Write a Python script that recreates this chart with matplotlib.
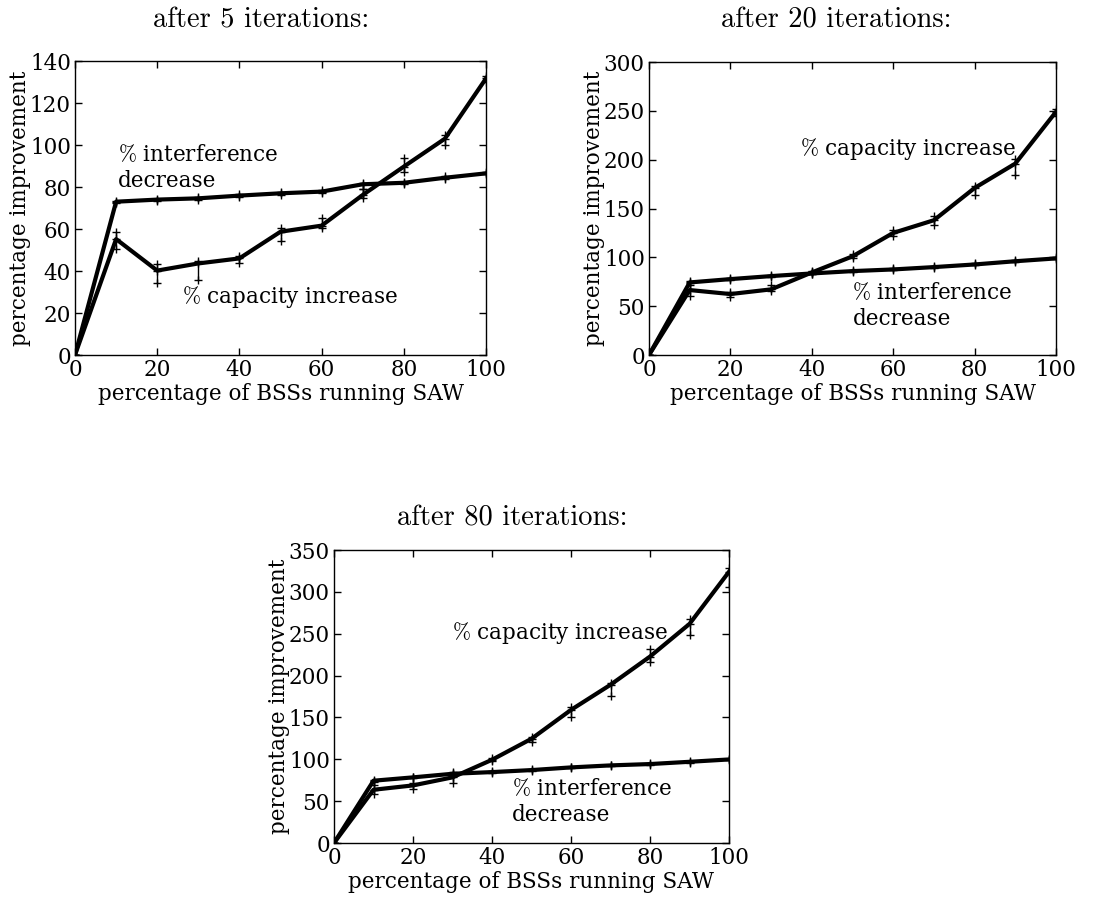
import matplotlib
matplotlib.use("Agg")
import matplotlib.pyplot as plt
import numpy as np

plt.rcParams['font.family'] = 'DejaVu Serif'
plt.rcParams['mathtext.fontset'] = 'cm'

x = [0, 10, 20, 30, 40, 50, 60, 70, 80, 90, 100]

# after 5 iterations
interf_5 = [0, 73.0, 74.0, 74.6, 75.9, 77.0, 77.8, 81.3, 82.0, 84.4, 86.5]
interf_5_lo = [0, 72.5, 73.5, 74.0, 75.3, 76.4, 77.2, 79.0, 81.5, 83.8, 86.0]
interf_5_hi = [0, 73.5, 74.5, 75.2, 76.5, 77.6, 78.4, 82.0, 82.5, 85.0, 87.0]
cap_5 = [0, 55.2, 40.2, 43.6, 46.0, 58.7, 61.6, 76.2, 89.7, 103.0, 131.7]
cap_5_lo = [0, 50.3, 34.4, 35.7, 44.0, 54.3, 60.3, 74.6, 87.0, 100.0, 130.0]
cap_5_hi = [0, 58.4, 43.3, 44.9, 47.0, 60.3, 65.4, 79.0, 94.0, 104.8, 133.0]

# after 20 iterations
interf_20 = [0, 74.3, 77.7, 80.8, 83.5, 85.9, 87.6, 90.0, 92.7, 96.0, 98.9]
interf_20_lo = [0, 73.3, 76.7, 79.8, 82.5, 84.9, 86.6, 89.0, 91.7, 95.0, 97.9]
interf_20_hi = [0, 75.3, 78.7, 81.8, 84.5, 86.9, 88.6, 91.0, 93.7, 97.0, 99.9]
cap_20 = [0, 66.5, 62.4, 67.2, 84.5, 101.0, 125.0, 138.0, 171.0, 196.0, 249.0]
cap_20_lo = [0, 60.3, 59.7, 65.8, 83.0, 98.9, 121.7, 133.0, 163.6, 184.8, 244.4]
cap_20_hi = [0, 71.6, 64.8, 71.6, 86.0, 103.6, 127.8, 142.5, 173.0, 200.4, 251.6]

# after 80 iterations
interf_80 = [0, 74.4, 78.4, 82.7, 84.7, 87.1, 90.3, 92.7, 94.3, 97.0, 99.8]
interf_80_lo = [0, 73.4, 77.4, 81.7, 83.7, 86.1, 89.3, 91.7, 93.3, 96.0, 98.8]
interf_80_hi = [0, 75.4, 79.4, 83.7, 85.7, 88.1, 91.3, 93.7, 95.3, 98.0, 100.8]
cap_80 = [0, 63.6, 68.8, 78.4, 99.4, 124.5, 159.0, 189.0, 222.7, 261.7, 324.0]
cap_80_lo = [0, 58.9, 64.4, 71.6, 97.5, 121.0, 150.0, 176.0, 216.8, 248.6, 306.0]
cap_80_hi = [0, 69.6, 71.6, 84.3, 101.5, 127.0, 162.0, 191.0, 231.5, 267.0, 328.0]

titles = ["after 5 iterations:", "after 20 iterations:", "after 80 iterations:"]
ylims = [140, 300, 350]
ytick_steps = [20, 50, 50]

W, H = 1105, 897
fig = plt.figure(figsize=(W / 100, H / 100), dpi=100)


def px_axes(left, top, right, bottom):
    return fig.add_axes([left / W, 1 - bottom / H, (right - left) / W, (bottom - top) / H])


axes = [px_axes(75, 61, 486, 355), px_axes(649, 62, 1056, 355), px_axes(334, 550, 729, 843)]

series = [
    (interf_5, interf_5_lo, interf_5_hi, cap_5, cap_5_lo, cap_5_hi),
    (interf_20, interf_20_lo, interf_20_hi, cap_20, cap_20_lo, cap_20_hi),
    (interf_80, interf_80_lo, interf_80_hi, cap_80, cap_80_lo, cap_80_hi),
]

FS = 15.5


def draw(ax, vals, yl, step):
    for y, lo, hi in (vals[0:3], vals[3:6]):
        ax.vlines(x, lo, hi, color='k', lw=1, zorder=2)
        ax.plot(x, lo, '+', color='k', ms=6, mew=1, zorder=2)
        ax.plot(x, hi, '+', color='k', ms=6, mew=1, zorder=2)
        ax.plot(x, y, '-+', color='k', lw=3, ms=6, mew=1, zorder=3)
    ax.set_xlim(0, 100)
    ax.set_ylim(0, yl)
    ax.set_xticks(np.arange(0, 101, 20))
    ax.set_yticks(np.arange(0, yl + 1, step))
    ax.tick_params(direction='in', top=True, right=True, length=5, width=1,
                   labelsize=FS, pad=3)
    ax.set_xlabel("percentage of BSSs running SAW", fontsize=FS, labelpad=1)
    ax.set_ylabel("percentage improvement", fontsize=FS, labelpad=-1)
    for s in ax.spines.values():
        s.set_linewidth(1)


for ax, vals, yl, step in zip(axes, series, ylims, ytick_steps):
    draw(ax, vals, yl, step)

# curve labels
a1, a2, a3 = axes
a1.text(10.5, 89, "$\\%$ interference\ndecrease", fontsize=FS, va='center', ha='left')
a1.text(26, 27.8, "$\\%$ capacity increase", fontsize=FS, va='center', ha='left')
a2.text(37, 211, "$\\%$ capacity increase", fontsize=FS, va='center', ha='left')
a2.text(50, 50, "$\\%$ interference\ndecrease", fontsize=FS, va='center', ha='left')
a3.text(30, 251, "$\\%$ capacity increase", fontsize=FS, va='center', ha='left')
a3.text(45, 49, "$\\%$ interference\ndecrease", fontsize=FS, va='center', ha='left')

# panel titles
title_pos = [(261, 28), (836, 28), (512, 525)]
for t, (tx, ty) in zip(titles, title_pos):
    fig.text(tx / W, 1 - ty / H, t, family='cmr10',
             fontsize=20.5, ha='center', va='baseline')

fig.savefig("out.png", dpi=100)
